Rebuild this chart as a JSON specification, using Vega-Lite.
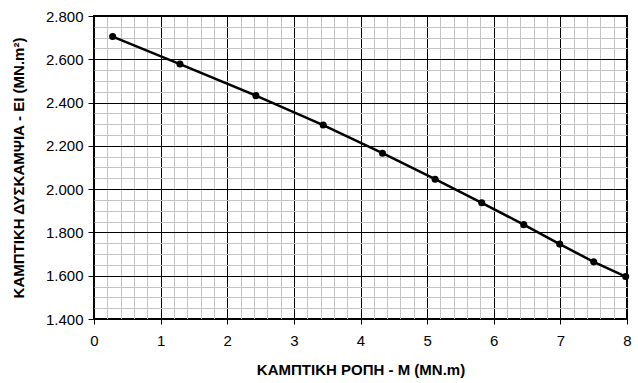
{
  "$schema": "https://vega.github.io/schema/vega-lite/v6.json",
  "width": 533,
  "height": 303,
  "autosize": {"type": "none"},
  "padding": {"left": 94, "top": 16, "right": 11, "bottom": 64},
  "background": "white",
  "config": {
    "view": {"stroke": "black", "strokeWidth": 2},
    "font": "Liberation Sans"
  },
  "data": {
    "values": [
      {"M": 0.28, "EI": 2.705},
      {"M": 1.29, "EI": 2.578},
      {"M": 2.43, "EI": 2.432},
      {"M": 3.44, "EI": 2.296},
      {"M": 4.33, "EI": 2.166},
      {"M": 5.12, "EI": 2.046},
      {"M": 5.82, "EI": 1.937},
      {"M": 6.45, "EI": 1.836},
      {"M": 6.99, "EI": 1.746},
      {"M": 7.5, "EI": 1.664},
      {"M": 7.98, "EI": 1.596}
    ]
  },
  "layer": [
    {
      "mark": {"type": "point", "opacity": 0},
      "encoding": {
        "x": {
          "field": "M", "type": "quantitative",
          "scale": {"domain": [0, 8], "nice": false, "zero": false},
          "axis": {
            "orient": "bottom",
            "values": [0.2,0.4,0.6,0.8,1.2,1.4,1.6,1.8,2.2,2.4,2.6,2.8,3.2,3.4,3.6,3.8,4.2,4.4,4.6,4.8,5.2,5.4,5.6,5.8,6.2,6.4,6.6,6.8,7.2,7.4,7.6,7.8],
            "grid": true, "gridColor": "#c4c4c4", "gridWidth": 1,
            "labels": false, "ticks": false, "domain": false, "title": null
          }
        },
        "y": {
          "field": "EI", "type": "quantitative",
          "scale": {"domain": [1.4, 2.8], "nice": false, "zero": false},
          "axis": {
            "orient": "left",
            "values": [1.45,1.5,1.55,1.65,1.7,1.75,1.85,1.9,1.95,2.05,2.1,2.15,2.25,2.3,2.35,2.45,2.5,2.55,2.65,2.7,2.75],
            "grid": true, "gridColor": "#c4c4c4", "gridWidth": 1,
            "labels": false, "ticks": false, "domain": false, "title": null
          }
        }
      }
    },
    {
      "mark": {"type": "line", "color": "black", "strokeWidth": 2.5},
      "encoding": {
        "x": {
          "field": "M", "type": "quantitative",
          "axis": {
            "orient": "bottom",
            "values": [0,1,2,3,4,5,6,7,8],
            "format": "d",
            "grid": true, "gridColor": "black", "gridWidth": 1, "gridOpacity": 1,
            "domain": false,
            "ticks": true, "tickColor": "black", "tickSize": 5, "tickWidth": 1,
            "labelFont": "Liberation Sans", "labelFontSize": 15, "labelColor": "black",
            "labelPadding": 9, "labelFlush": false,
            "title": "ΚΑΜΠΤΙΚΗ ΡΟΠΗ - M (MN.m)",
            "titleFont": "Liberation Sans", "titleFontSize": 15, "titleFontWeight": "bold",
            "titleColor": "black", "titlePadding": 14
          }
        },
        "y": {
          "field": "EI", "type": "quantitative",
          "axis": {
            "orient": "left",
            "values": [1.4,1.6,1.8,2.0,2.2,2.4,2.6,2.8],
            "format": ".3f",
            "grid": true, "gridColor": "black", "gridWidth": 1, "gridOpacity": 1,
            "domain": false,
            "ticks": true, "tickColor": "black", "tickSize": 6, "tickWidth": 1,
            "labelFont": "Liberation Sans", "labelFontSize": 15, "labelColor": "black",
            "labelPadding": 5, "labelFlush": false,
            "title": "ΚΑΜΠΤΙΚΗ ΔΥΣΚΑΜΨΙΑ - EI (MN.m²)",
            "titleFont": "Liberation Sans", "titleFontSize": 15, "titleFontWeight": "bold",
            "titleColor": "black", "titlePadding": 19
          }
        }
      }
    },
    {
      "mark": {"type": "circle", "color": "black", "size": 50, "opacity": 1},
      "encoding": {
        "x": {"field": "M", "type": "quantitative", "axis": null},
        "y": {"field": "EI", "type": "quantitative", "axis": null}
      }
    }
  ],
  "resolve": {"axis": {"x": "independent", "y": "independent"}}
}
